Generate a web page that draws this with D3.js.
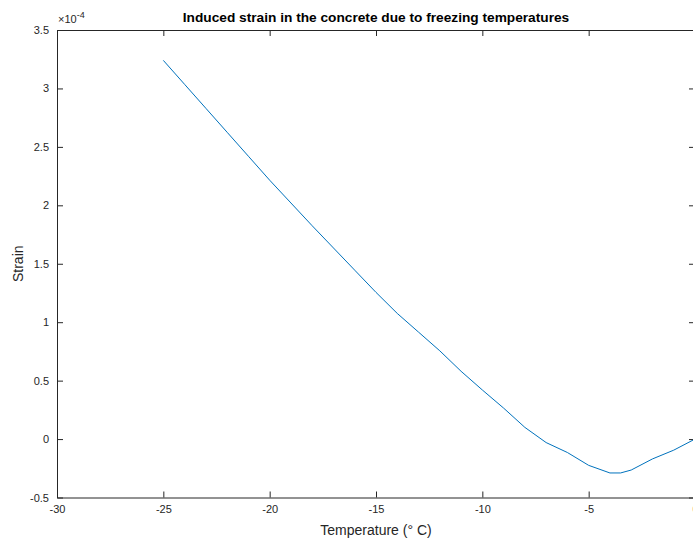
<!DOCTYPE html>
<meta charset="utf-8">
<script src="https://d3js.org/d3.v7.min.js"></script>
<style>
  body { margin: 0; background: #fff; }
  svg { display: block; font-family: "Liberation Sans", Arial, Helvetica, sans-serif; }
</style>
<body>
<script>
// temperature (deg C) and induced strain (x1e-4)
var temps  = [-25, -24, -23, -22, -21, -20, -19, -18, -17, -16, -15, -14, -13, -12, -11, -10, -9, -8, -7, -6, -5, -4, -3.5, -3, -2, -1, 0];
var strain = [3.24, 3.035, 2.83, 2.625, 2.42, 2.215, 2.02, 1.825, 1.635, 1.445, 1.255, 1.075, 0.915, 0.755, 0.58, 0.42, 0.265, 0.1, -0.03, -0.115, -0.225, -0.29, -0.29, -0.265, -0.17, -0.095, 0];
var xTicks = [-30, -25, -20, -15, -10, -5, 0];
var yTicks = [-0.5, 0, 0.5, 1, 1.5, 2, 2.5, 3, 3.5];

var width = 693, height = 538;
var margin = {top: 30, right: -2, bottom: 40.5, left: 57};
var ink = "#262626";
var fmt = d => String(d);   // plain hyphen minus, like the original

var svg = d3.select("body").append("svg")
    .attr("width", width)
    .attr("height", height);

var x = d3.scaleLinear().domain([-30, 0]).range([margin.left, width - margin.right]);
var y = d3.scaleLinear().domain([-0.5, 3.5]).range([height - margin.bottom, margin.top]);

var x0 = x.range()[0], x1 = x.range()[1], y0 = y.range()[0], y1 = y.range()[1];

// bottom axis
svg.append("g")
    .attr("transform", "translate(0," + y0 + ")")
    .call(d3.axisBottom(x).tickValues(xTicks).tickSizeInner(-6).tickSizeOuter(0).tickPadding(8).tickFormat(fmt))
    .call(g => g.select(".domain").attr("stroke", ink))
    .call(g => g.selectAll(".tick line").attr("stroke", ink))
    .call(g => g.selectAll("text").attr("fill", ink).attr("font-size", 11).attr("font-family", null));

// top axis (ticks only)
svg.append("g")
    .attr("transform", "translate(0," + y1 + ")")
    .call(d3.axisTop(x).tickValues(xTicks).tickSizeInner(-6).tickSizeOuter(0).tickFormat(""))
    .call(g => g.select(".domain").attr("stroke", ink))
    .call(g => g.selectAll(".tick line").attr("stroke", ink));

// left axis
svg.append("g")
    .attr("transform", "translate(" + x0 + ",0)")
    .call(d3.axisLeft(y).tickValues(yTicks).tickSizeInner(-6).tickSizeOuter(0).tickPadding(8).tickFormat(fmt))
    .call(g => g.select(".domain").attr("stroke", ink))
    .call(g => g.selectAll(".tick line").attr("stroke", ink))
    .call(g => g.selectAll("text").attr("fill", ink).attr("font-size", 11).attr("font-family", null));

// right axis (ticks only)
svg.append("g")
    .attr("transform", "translate(" + x1 + ",0)")
    .call(d3.axisRight(y).tickValues(yTicks).tickSizeInner(-6).tickSizeOuter(0).tickFormat(""))
    .call(g => g.select(".domain").attr("stroke", ink))
    .call(g => g.selectAll(".tick line").attr("stroke", ink));

// exponent label
var expo = svg.append("text")
    .attr("x", x0 + 1)
    .attr("y", y1 - 7)
    .attr("fill", ink)
    .attr("font-size", 11);
expo.append("tspan").text("\u00d710");
expo.append("tspan").attr("dy", -5).attr("font-size", 9).text("-4");

// data line
var line = d3.line()
    .x((d, i) => x(temps[i]))
    .y(d => y(d));

svg.append("path")
    .datum(strain)
    .attr("fill", "none")
    .attr("stroke", "#0072BD")
    .attr("stroke-width", 1)
    .attr("d", line);

// title
svg.append("text")
    .attr("x", (x0 + x1) / 2)
    .attr("y", 22)
    .attr("text-anchor", "middle")
    .attr("font-size", 13.7)
    .attr("font-weight", "bold")
    .attr("fill", "#000")
    .text("Induced strain in the concrete due to freezing temperatures");

// axis labels
svg.append("text")
    .attr("x", (x0 + x1) / 2)
    .attr("y", 535)
    .attr("text-anchor", "middle")
    .attr("font-size", 14)
    .attr("fill", ink)
    .text("Temperature (\u00b0 C)");

svg.append("text")
    .attr("transform", "translate(23," + (y0 + y1) / 2 + ") rotate(-90)")
    .attr("text-anchor", "middle")
    .attr("font-size", 14)
    .attr("fill", ink)
    .text("Strain");
</script>
</body>
